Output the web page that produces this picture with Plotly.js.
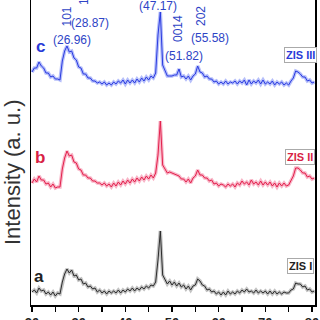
<!DOCTYPE html>
<html><head><meta charset="utf-8">
<script src="https://cdn.plot.ly/plotly-3.0.1.min.js"></script>
<style>html,body{margin:0;padding:0;background:#fff}#chart{width:320px;height:320px}</style>
</head><body><div id="chart"></div>
<script>
// 2-theta (degrees)
const twoTheta = [
20,20.5,21,21.5,22,22.5,23,23.5,24,24.5,
25,25.5,26,26.5,27,27.5,28,28.5,29,29.5,
30,30.5,31,31.5,32,32.5,33,33.5,34,34.5,
35,35.5,36,36.5,37,37.5,38,38.5,39,39.5,
40,40.5,41,41.5,42,42.5,43,43.5,44,44.5,
45,45.5,46,46.5,47,47.5,48,48.5,49,49.5,
50,50.5,51,51.5,52,52.5,53,53.5,54,54.5,
55,55.5,56,56.5,57,57.5,58,58.5,59,59.5,
60,60.5,61,61.5,62,62.5,63,63.5,64,64.5,
65,65.5,66,66.5,67,67.5,68,68.5,69,69.5,
70,70.5,71,71.5,72,72.5,73,73.5,74,74.5,
75,75.5,76,76.5,77,77.5,78,78.5,79,79.5,
80,80.5];
// intensity (a. u., stacked offsets as drawn)
const zisI = [
13,15,12,17,14,15,11,13,10,13,
9,12,11,23,31,36,32,35,29,30,
25,26,21,22,18,19,16,17,13,15,
12,14,11,14,12,14,12,15,12,15,
13,16,14,17,14,17,15,18,16,19,
17,20,19,23,45,74,30,25,21,24,
20,23,19,22,18,20,16,19,15,19,
20,26,24,20,19,15,16,13,14,11,
13,10,13,10,14,11,13,11,14,12,
15,13,16,13,14,12,15,12,14,12,
14,11,14,11,14,11,13,11,13,12,
12,15,16,22,21,21,18,19,15,16,
13,14];
const zisII = [
122,126,123,129,125,125,121,122,118,121,
117,118,118,136,147,154,149,150,143,142,
136,135,130,130,127,127,124,124,122,122,
120,122,119,121,118,122,119,123,120,124,
121,125,122,126,123,127,124,128,125,129,
126,130,127,132,150,184,140,136,132,133,
132,131,130,129,126,126,123,126,122,127,
129,135,130,130,127,127,124,125,121,122,
119,121,120,118,121,119,121,118,122,120,
124,121,123,120,125,121,123,120,124,120,
123,120,123,119,122,118,122,119,122,119,
120,124,129,137,137,135,132,132,128,129,
126,127];
const zisIII = [
233,237,237,243,239,237,232,232,228,229,
226,226,225,244,254,259,253,254,247,245,
238,237,231,231,227,227,224,224,222,223,
221,223,220,222,220,223,221,224,222,225,
221,225,222,225,222,226,223,227,224,228,
225,229,227,232,270,293,240,235,229,229,
229,230,230,236,228,229,226,229,225,229,
231,239,233,232,228,229,226,226,223,224,
221,223,221,224,221,223,222,224,221,224,
222,225,220,225,221,224,222,225,221,225,
221,223,221,224,220,223,221,223,220,222,
220,224,227,234,233,231,228,228,224,225,
222,223];
const seriesNames = ['ZIS I','ZIS II','ZIS III'];
const seriesLetters = ['a','b','c'];
const peakLabels = ['(26.96)','(28.87)','(47.17)','(51.82)','(55.58)'];
const hklLabels = ['101','102','0014','202'];
const xTicks = [20,30,40,50,60,70,80];

const W=320,H=320,L=31,R=5,T=0,B=15;
const pw=W-L-R, ph=H-T-B;
const px=x=>(x-L)/pw, py=y=>(H-B-y)/ph;

const cols = [
  {core:'#2b2b2b', halo:'rgba(120,120,120,0.45)'},
  {core:'#e3204c', halo:'rgba(240,90,130,0.45)'},
  {core:'#2a3be0', halo:'rgba(90,110,245,0.45)'}
];
const ys=[zisI,zisII,zisIII];
const traces=[];
ys.forEach((y,i)=>{
  traces.push({x:twoTheta,y:y,type:'scatter',mode:'lines',line:{color:cols[i].halo,width:3.5},hoverinfo:'skip',showlegend:false});
  traces.push({x:twoTheta,y:y,type:'scatter',mode:'lines',line:{color:cols[i].core,width:1},name:seriesNames[i],showlegend:false});
});

const narrow='Liberation Sans Narrow, Arial Narrow, Liberation Sans, Arial, sans-serif';
const sans='Liberation Sans, Arial, sans-serif';
const blueT='#2e44c6';
const ann=[];
function A(text,x,y,o){ann.push(Object.assign({text:text,x:px(x),y:py(y),xref:'paper',yref:'paper',showarrow:false,xanchor:'center',yanchor:'middle'},o||{}));}
// y title
A('Intensity (a. u.)',12,172,{textangle:-90,font:{family:sans,size:22,color:'#333'}});
// peak positions
const pf={family:narrow,size:12,color:blueT};
A(peakLabels[0],72,40,{font:pf});
A(peakLabels[1],90,23,{font:pf});
A(peakLabels[2],158,6,{font:pf});
A(peakLabels[3],184,56,{font:pf});
A(peakLabels[4],210,38,{font:pf});
const hf={family:sans,size:12,color:blueT};
A(hklLabels[0],66.5,17,{textangle:-90,font:hf});
A(hklLabels[1],84,-5,{textangle:-90,font:hf});
A(hklLabels[2],178,29,{textangle:-90,font:hf});
A(hklLabels[3],201,16,{textangle:-90,font:hf});
// series letters
A(seriesLetters[2],40,47,{font:{family:sans,size:17,color:'#2a3bd8',weight:'bold'}});
A(seriesLetters[1],40,157,{font:{family:sans,size:17,color:'#d81f45',weight:'bold'}});
A(seriesLetters[0],39,276,{font:{family:sans,size:17,color:'#222',weight:'bold'}});
// boxed names
const boxC=['#222','#d81f45','#2a3bd8'];
const boxY=[266,157,55];
[0,1,2].forEach(i=>A(seriesNames[i],300,boxY[i],{font:{family:narrow,size:11,color:boxC[i],weight:'bold'},bordercolor:'#aaa',borderwidth:1,borderpad:1,bgcolor:'#fff'}));

const layout={
  width:W,height:H,margin:{l:L,r:R,t:T,b:B,pad:0},
  paper_bgcolor:'#fff',plot_bgcolor:'#fff',showlegend:false,
  xaxis:{range:[19.79,80.64],showgrid:false,zeroline:false,showline:true,linecolor:'#000',linewidth:1.5,
    ticks:'outside',ticklen:5,tickwidth:1.2,tickcolor:'#000',tickvals:xTicks,ticktext:xTicks.map(String),
    minor:{dtick:5,tick0:20,ticks:'outside',ticklen:5,tickwidth:1.2,tickcolor:'#000'},
    tickfont:{family:narrow,size:13,color:'#222',weight:'bold'}},
  yaxis:{range:[0,305],showgrid:false,zeroline:false,showline:true,mirror:true,linecolor:'#000',linewidth:1.5,
    showticklabels:false,ticks:''},
  annotations:ann
};
Plotly.newPlot('chart',traces,layout,{staticPlot:true,displayModeBar:false});
</script></body></html>
